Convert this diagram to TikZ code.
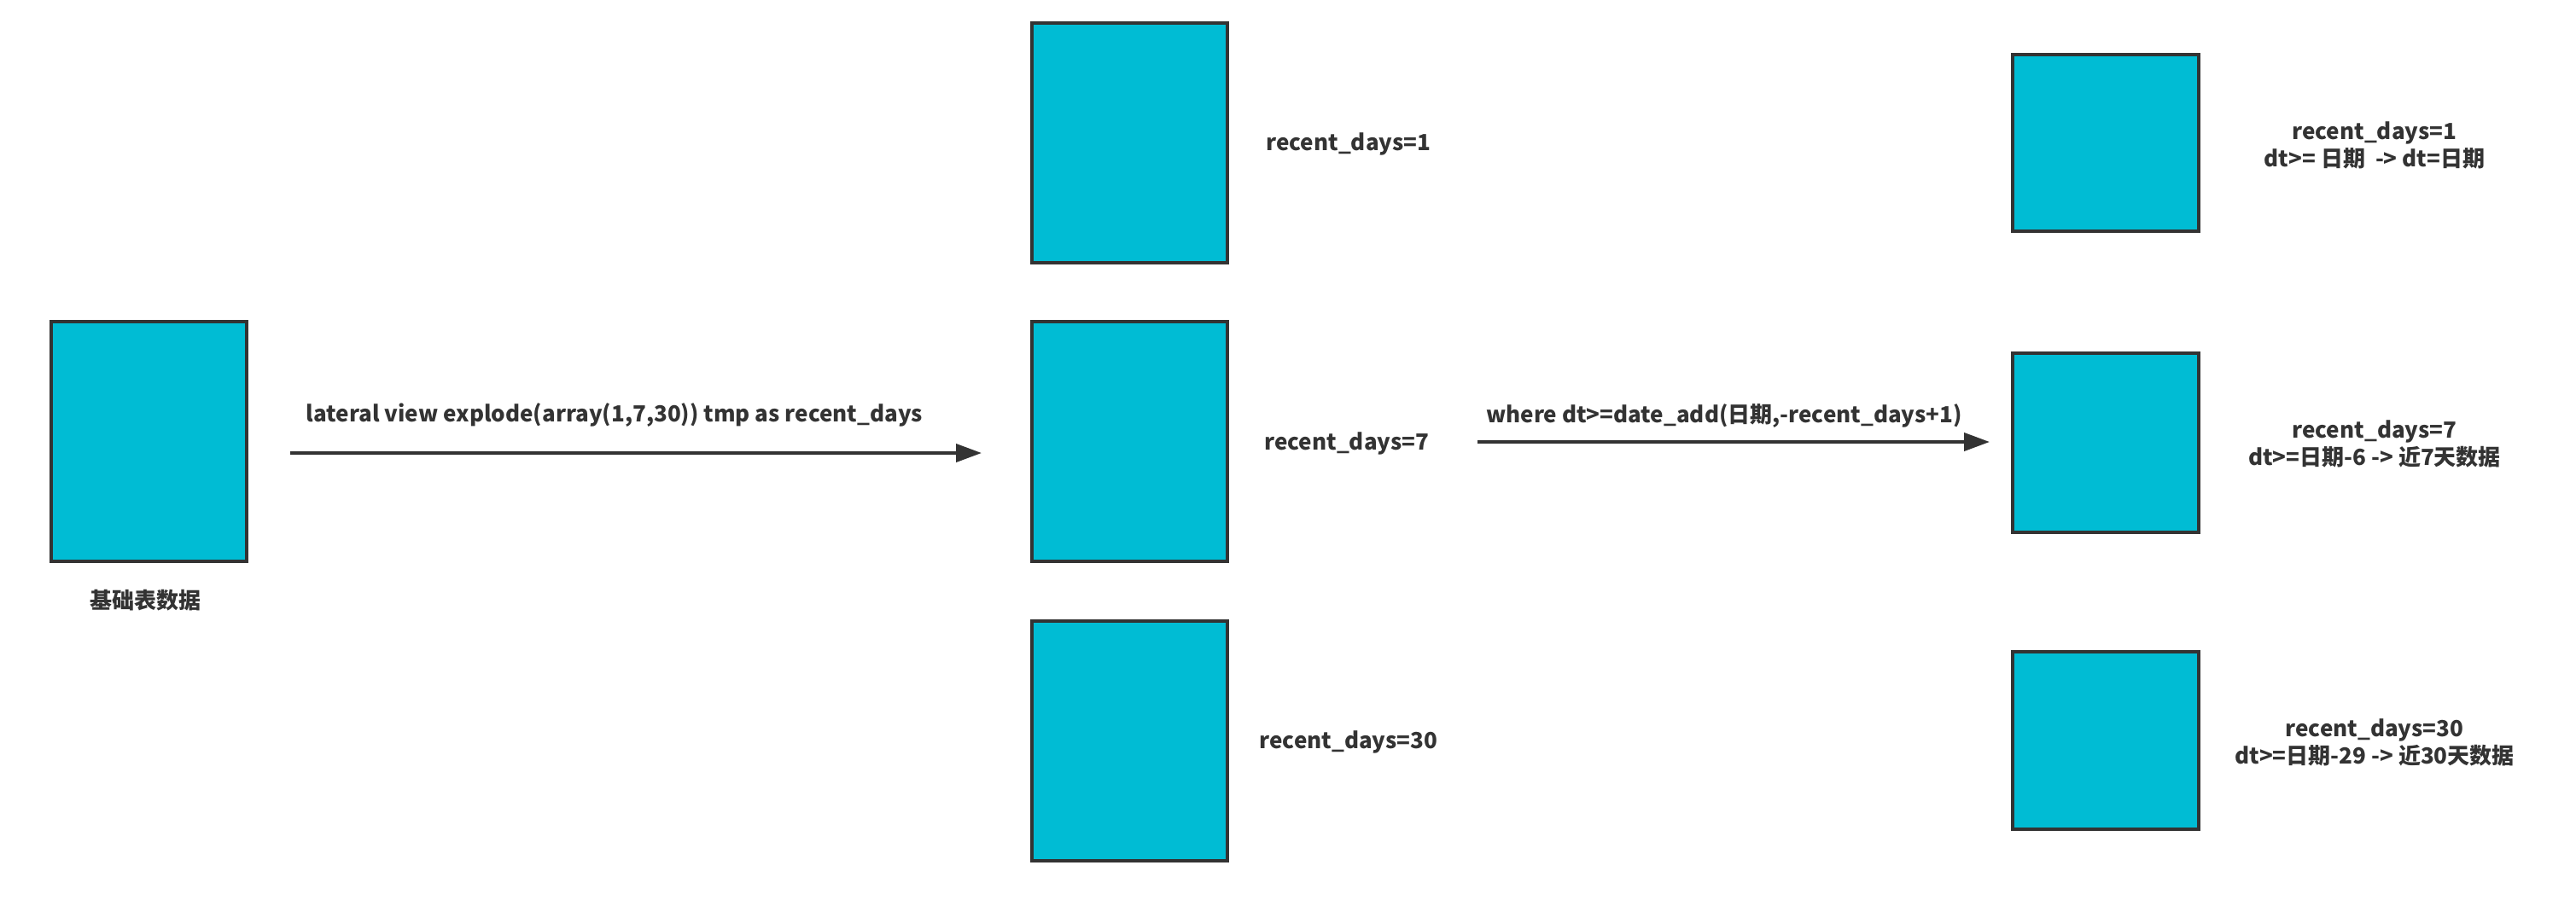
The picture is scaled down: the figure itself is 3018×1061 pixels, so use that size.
\documentclass[tikz,border=0pt]{standalone}
\usepackage{fontspec}
\setmainfont{Noto Sans CJK SC}
\usetikzlibrary{arrows.meta}
\definecolor{boxfill}{HTML}{00BCD4}
\definecolor{ink}{HTML}{333333}
\begin{document}
\begin{tikzpicture}[x=1pt,y=-1pt,
  databox/.style={draw=ink,fill=boxfill,line width=4pt,inner sep=0pt},
  lbl/.style={text=ink,font=\fontsize{26}{32}\selectfont\bfseries,align=center,inner sep=0pt},
  flow/.style={draw=ink,line width=4pt,-{Triangle[length=30pt,width=21pt]}}]
\path[use as bounding box,fill=white] (0,0) rectangle (3018,1061);
% boxes
\path[databox] (60,377) rectangle (289,658) node[pos=0.5] (base) {};
\path[databox] (1209,27) rectangle (1438,308) node[pos=0.5] (m1) {};
\path[databox] (1209,377) rectangle (1438,658) node[pos=0.5] (m7) {};
\path[databox] (1209,728) rectangle (1438,1009) node[pos=0.5] (m30) {};
\path[databox] (2358,64) rectangle (2576,271) node[pos=0.5] (r1) {};
\path[databox] (2358,414) rectangle (2576,624) node[pos=0.5] (r7) {};
\path[databox] (2358,764) rectangle (2576,972) node[pos=0.5] (r30) {};
% labels
\node[lbl] (lbase) at (170,704) {基础表数据};
\node[lbl] (lm1) at (1580,169) {recent\_days=1};
\node[lbl] (lm7) at (1578,520) {recent\_days=7};
\node[lbl] (lm30) at (1580,870) {recent\_days=30};
\node[lbl] (lr1) at (2782,170) {recent\_days=1\\dt>= 日期\ \ -> dt=日期};
\node[lbl] (lr7) at (2782,520) {recent\_days=7\\dt>=日期-6 -> 近7天数据};
\node[lbl] (lr30) at (2782,870) {recent\_days=30\\dt>=日期-29 -> 近30天数据};
% arrows
\coordinate (a1s) at (340,531);
\coordinate (a1e) at (1150,531);
\coordinate (a2s) at (1731,518);
\coordinate (a2e) at (2331,518);
\draw[flow] (a1s) -- (a1e);
\draw[flow] (a2s) -- (a2e);
\node[lbl] (t1) at (720,487) {lateral view explode(array(1,7,30)) tmp as recent\_days};
\node[lbl] (t2) at (2020,487) {where dt>=date\_add(日期,-recent\_days+1)};
\end{tikzpicture}
\end{document}
